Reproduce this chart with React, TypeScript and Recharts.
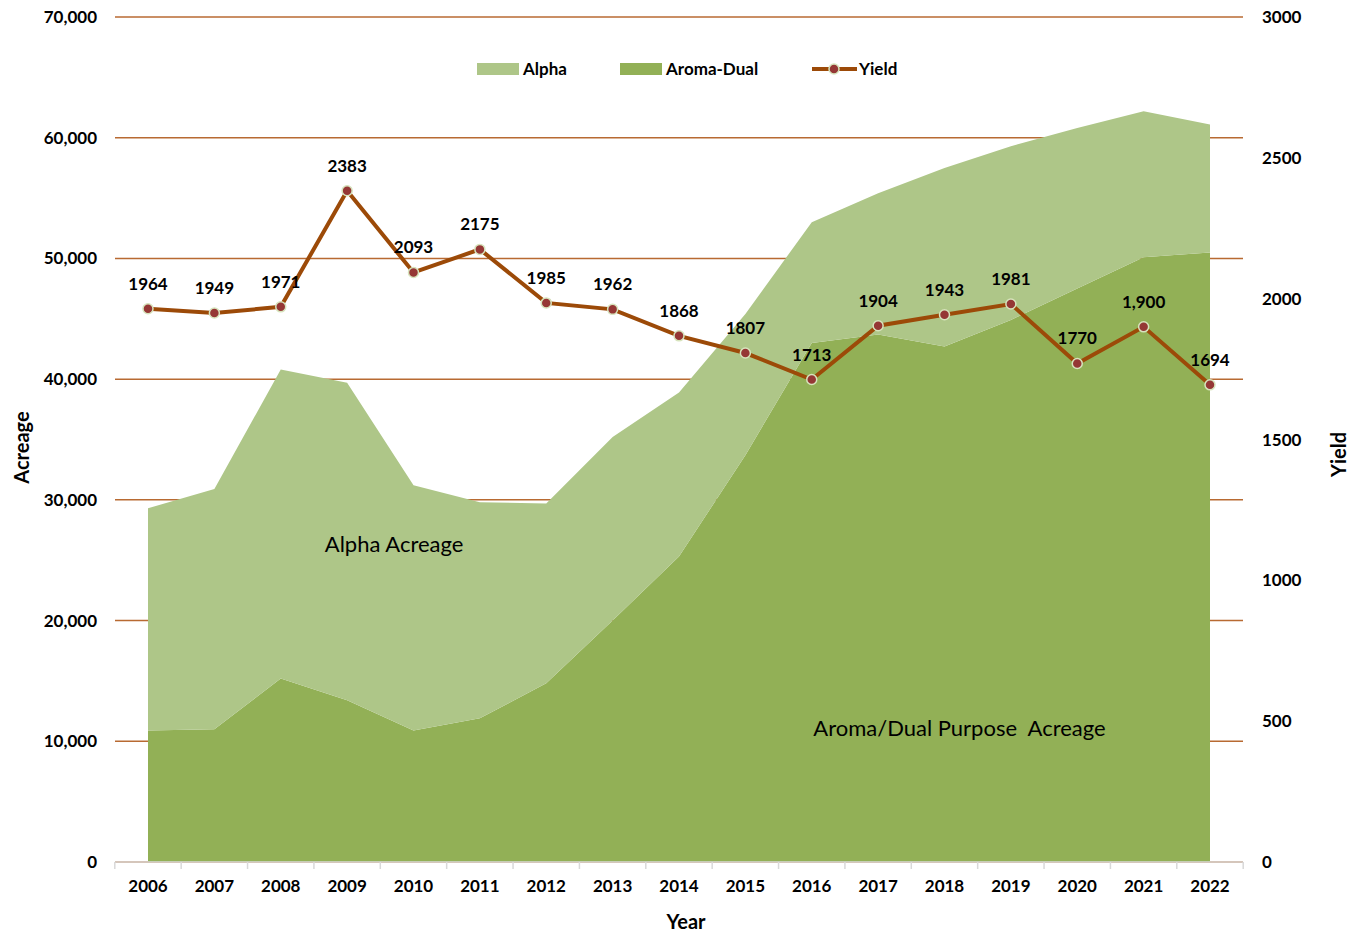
import React from "react";
import {
  ComposedChart, Area, Line, XAxis, YAxis, CartesianGrid, LabelList, ReferenceDot, Label,
} from "recharts";

// values
const years = ["2006", "2007", "2008", "2009", "2010", "2011", "2012", "2013", "2014", "2015", "2016", "2017", "2018", "2019", "2020", "2021", "2022"];
const aromaDual = [10900, 11000, 15200, 13400, 10900, 11900, 14800, 20000, 25300, 33700, 43000, 43700, 42700, 44900, 47500, 50100, 50500];
const alpha = [18400, 19900, 25600, 26300, 20300, 17900, 14900, 15200, 13600, 11700, 10000, 11700, 14800, 14400, 13300, 12100, 10600];
const yieldVals = [1964, 1949, 1971, 2383, 2093, 2175, 1985, 1962, 1868, 1807, 1713, 1904, 1943, 1981, 1770, 1900, 1694];
const yieldLabels = ["1964", "1949", "1971", "2383", "2093", "2175", "1985", "1962", "1868", "1807", "1713", "1904", "1943", "1981", "1770", "1,900", "1694"];
const acreTicks = [0, 10000, 20000, 30000, 40000, 50000, 60000, 70000];
const yieldTicks = [0, 500, 1000, 1500, 2000, 2500, 3000];

const data = years.map((y, i) => ({
  year: y,
  aroma: aromaDual[i],
  alpha: alpha[i],
  yield: yieldVals[i],
  yieldLabel: yieldLabels[i],
}));

const ALPHA_C = "#aec688";
const AROMA_C = "#92b056";
const LINE_C = "#9c4a08";
const DOT_C = "#953735";
const GRID_C = "#b86a32";
const HALF_STEP = 33.2;

const txt = { fontSize: 17, fontWeight: 700, fill: "#000" };
const title = { fontSize: 20, fontWeight: 700, fill: "#000" };

const XTick = (props: any) => {
  const { x, y, payload, index, visibleTicksCount } = props;
  const last = index === visibleTicksCount - 1;
  return (
    <g>
      <line x1={x - HALF_STEP} x2={x - HALF_STEP} y1={y} y2={y + 7} stroke="#d9d9d9" strokeWidth={1.5} />
      {last && <line x1={x + HALF_STEP} x2={x + HALF_STEP} y1={y} y2={y + 7} stroke="#d9d9d9" strokeWidth={1.5} />}
      <text x={x} y={y + 18} dy="0.71em" textAnchor="middle" style={txt}>{payload.value}</text>
    </g>
  );
};

function LegendBox() {
  const item = { position: "absolute", top: 0, display: "flex", alignItems: "center", fontSize: 17, fontWeight: 700, color: "#000", whiteSpace: "nowrap" } as React.CSSProperties;
  return (
    <div style={{ position: "absolute", top: 58, left: 0, width: 1358, height: 22 }}>
      <div style={{ ...item, left: 477 }}>
        <span style={{ width: 42, height: 12, background: ALPHA_C, marginRight: 4 }} />
        Alpha
      </div>
      <div style={{ ...item, left: 620 }}>
        <span style={{ width: 42, height: 12, background: AROMA_C, marginRight: 4 }} />
        Aroma-Dual
      </div>
      <div style={{ ...item, left: 811 }}>
        <svg width={47} height={14} style={{ marginRight: 1 }}>
          <line x1={1} x2={46} y1={7} y2={7} stroke={LINE_C} strokeWidth={4} />
          <circle cx={23} cy={7} r={5} fill={DOT_C} stroke="#d7e4bd" strokeWidth={1.5} />
        </svg>
        Yield
      </div>
    </div>
  );
}

export default function App() {
  return (
    <div style={{ position: "absolute", left: 0, top: 0, width: 1358, height: 932, fontFamily: "Lato, 'Open Sans', sans-serif", background: "#fff" }}>
      <ComposedChart width={1358} height={932} data={data} margin={{ top: 17, right: 0, bottom: 0, left: 0 }}>
        <CartesianGrid yAxisId="left" vertical={false} stroke={GRID_C} strokeWidth={1.5} />
        <XAxis
          dataKey="year"
          height={70}
          padding={{ left: 33, right: 33 }}
          tickSize={0}
          tickMargin={0}
          tickLine={false}
          axisLine={{ stroke: "#d9d9d9", strokeWidth: 1.5 }}
          tick={<XTick />}
          interval={0}
        >
          <Label value="Year" position="insideBottom" offset={3} dx={7} style={title} />
        </XAxis>
        <YAxis
          yAxisId="left"
          width={115}
          domain={[0, 70000]}
          ticks={acreTicks}
          axisLine={false}
          tickLine={false}
          tickMargin={12}
          tick={txt}
          tickFormatter={(v: number) => v.toLocaleString("en-US")}
        >
          <Label value="Acreage" angle={-90} position="center" dx={-36} dy={8} style={title} />
        </YAxis>
        <YAxis
          yAxisId="right"
          orientation="right"
          width={115}
          domain={[0, 3000]}
          ticks={yieldTicks}
          axisLine={false}
          tickLine={false}
          tickMargin={13}
          tick={txt}
        >
          <Label value="Yield" angle={-90} position="center" dx={38} dy={15} style={title} />
        </YAxis>
        <Area yAxisId="left" type="linear" dataKey="aroma" stackId="a" fill={AROMA_C} fillOpacity={1} stroke="none" isAnimationActive={false} />
        <Area yAxisId="left" type="linear" dataKey="alpha" stackId="a" fill={ALPHA_C} fillOpacity={1} stroke="none" isAnimationActive={false} />
        <ReferenceDot yAxisId="left" x="2009" y={26300} r={0} stroke="none" fill="none"
          label={{ value: "Alpha Acreage", dx: 47, style: { fontSize: 22, fill: "#000" } }} />
        <ReferenceDot yAxisId="left" x="2018" y={11100} r={0} stroke="none" fill="none"
          label={{ value: "Aroma/Dual Purpose\u00a0 Acreage", dx: 15, style: { fontSize: 22, fill: "#000" } }} />
        <Line
          yAxisId="right"
          type="linear"
          dataKey="yield"
          stroke={LINE_C}
          strokeWidth={4}
          dot={{ r: 5, fill: DOT_C, stroke: "#d7e4bd", strokeWidth: 1.5 }}
          activeDot={false}
          isAnimationActive={false}
        >
          <LabelList dataKey="yieldLabel" position="top" offset={19} style={txt} />
        </Line>
      </ComposedChart>
      <LegendBox />
    </div>
  );
}
